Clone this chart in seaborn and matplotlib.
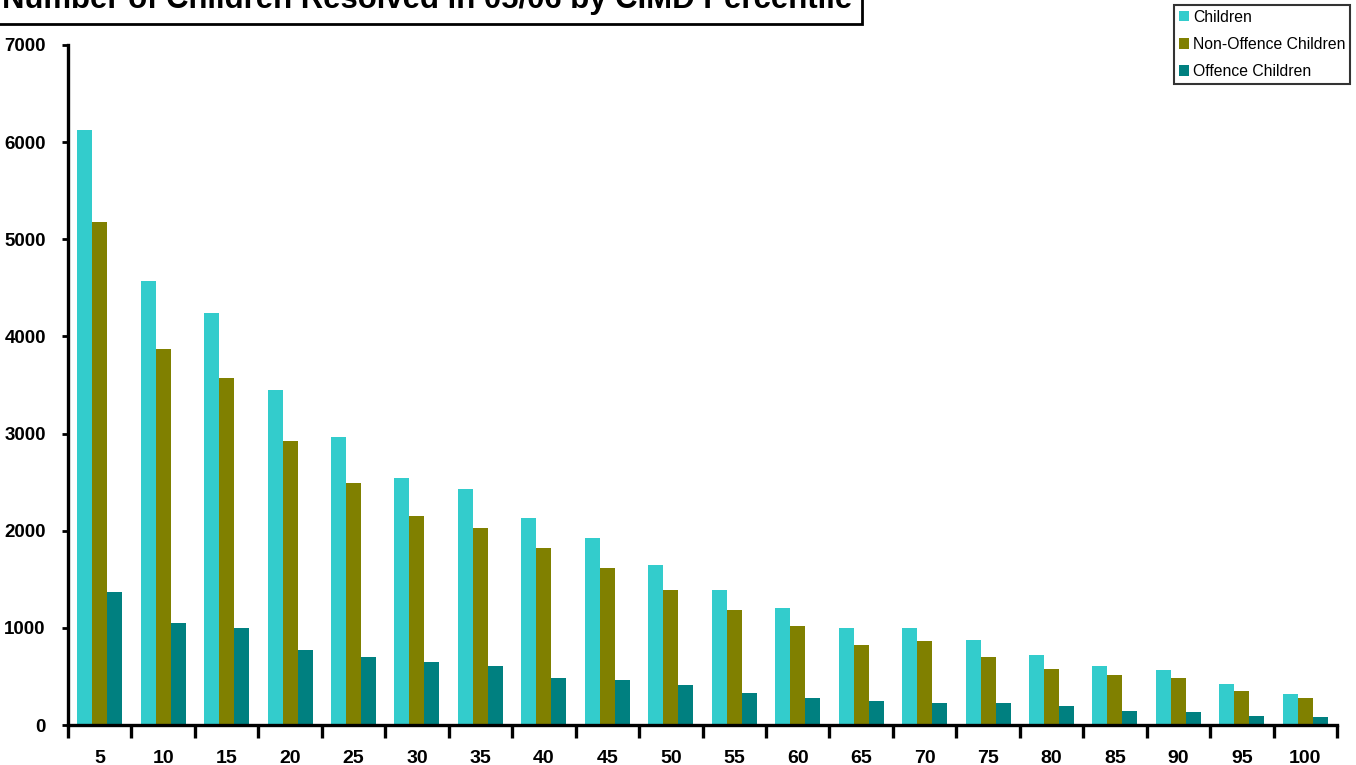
import matplotlib
matplotlib.use("Agg")
import matplotlib.pyplot as plt
import seaborn as sns
import pandas as pd
from matplotlib.ticker import FixedLocator, NullFormatter, FixedFormatter
from matplotlib.patches import Patch

percentiles = ["5", "10", "15", "20", "25", "30", "35", "40", "45", "50",
               "55", "60", "65", "70", "75", "80", "85", "90", "95", "100"]
children = [6125, 4570, 4240, 3450, 2965, 2545, 2430, 2130, 1925, 1650,
            1385, 1200, 1000, 1000, 870, 725, 605, 565, 420, 315]
non_offence = [5180, 3870, 3570, 2925, 2490, 2150, 2030, 1820, 1615, 1390,
               1185, 1015, 825, 860, 700, 580, 510, 485, 345, 280]
offence = [1370, 1050, 1000, 775, 700, 650, 605, 485, 460, 410,
           325, 275, 250, 225, 225, 195, 145, 130, 95, 80]
series_names = ["Children", "Non-Offence Children", "Offence Children"]
colors = ["#33CCCC", "#808000", "#008080"]

rows = []
for name, vals in zip(series_names, [children, non_offence, offence]):
    for p, v in zip(percentiles, vals):
        rows.append({"Percentile": p, "Series": name, "Count": v})
df = pd.DataFrame(rows)

sns.set_style("white")
plt.rcParams["text.color"] = "black"
plt.rcParams["xtick.color"] = "black"
plt.rcParams["ytick.color"] = "black"
plt.rcParams["xtick.labelcolor"] = "black"
plt.rcParams["ytick.labelcolor"] = "black"
bold_font = ["Liberation Sans Narrow", "Liberation Sans", "DejaVu Sans"]

fig = plt.figure(figsize=(13.56, 7.65), dpi=100)
ax = fig.add_axes([68 / 1356, 1 - 725 / 765, (1337 - 68) / 1356, (725 - 45) / 765])

sns.barplot(data=df, x="Percentile", y="Count", hue="Series", order=percentiles,
            hue_order=series_names, palette=colors, saturation=1, width=0.71, ax=ax,
            linewidth=0, errorbar=None, legend=False)

ax.set_xlim(-0.5, len(percentiles) - 0.5)
ax.set_ylim(0, 7000)
ax.set_xlabel("")
ax.set_ylabel("")

for s in ["top", "right"]:
    ax.spines[s].set_visible(False)
for s in ["left", "bottom"]:
    ax.spines[s].set_linewidth(2.4)
    ax.spines[s].set_color("black")

# x: tick marks at category boundaries, labels at centres
ax.xaxis.set_major_locator(FixedLocator([i - 0.5 for i in range(len(percentiles) + 1)]))
ax.xaxis.set_major_formatter(NullFormatter())
ax.xaxis.set_minor_locator(FixedLocator(list(range(len(percentiles)))))
ax.xaxis.set_minor_formatter(FixedFormatter(percentiles))
ax.tick_params(axis="x", which="major", direction="out", length=9, width=2.4, color="black", bottom=True)
ax.tick_params(axis="x", which="minor", length=0, pad=18, labelsize=14)

ax.set_yticks(range(0, 7001, 1000))
ax.tick_params(axis="y", direction="out", length=4, width=2, color="black", left=True, pad=12, labelsize=13.5)

for lab in ax.get_xticklabels(minor=True) + ax.get_yticklabels():
    lab.set_fontfamily(bold_font)
    lab.set_fontweight("bold")
    lab.set_color("black")

# legend
handles = [Patch(facecolor=c, edgecolor="none") for c in colors]
leg = fig.legend(handles, series_names, loc="upper right", bbox_to_anchor=(1350 / 1356, 1 - 5 / 765),
                 frameon=True, fancybox=False, edgecolor="black", fontsize=11.3,
                 handlelength=0.65, handleheight=0.65, handletextpad=0.25, labelspacing=0.78,
                 borderpad=0.3, borderaxespad=0)
leg.get_frame().set_linewidth(1.5)
for t in leg.get_texts():
    t.set_fontfamily(["Liberation Sans", "DejaVu Sans"])
    t.set_color("black")

# title box (partly cut off at top as in the reference)
fig.text(2 / 1356, 1 - 8 / 765, "Number of Children Resolved in 05/06 by CIMD Percentile",
         ha="left", va="baseline", fontsize=22.4, fontweight="bold", family=bold_font, color="black",
         bbox=dict(boxstyle="square,pad=0.3", facecolor="white", edgecolor="black", linewidth=2))

fig.savefig("out.png", dpi=100, facecolor="white")
